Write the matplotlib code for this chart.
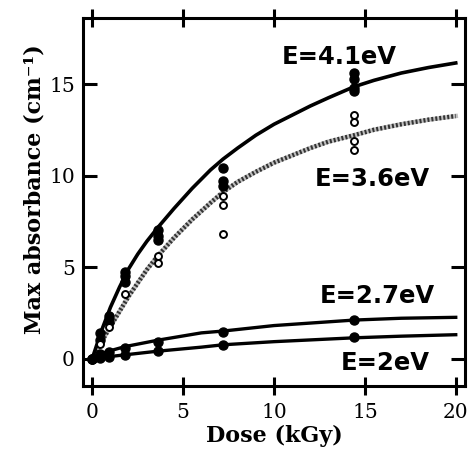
import matplotlib
matplotlib.use("Agg")
import matplotlib.pyplot as plt

# ---- data points (measured) ----
dose_41 = [0, 0.45, 0.45, 0.9, 0.9, 1.8, 1.8, 1.8, 3.6, 3.6, 3.6, 7.2, 7.2, 7.2, 14.4, 14.4, 14.4, 14.4]
abs_41 = [0, 1.4, 1.0, 2.3, 2.0, 4.7, 4.5, 4.2, 7.0, 6.7, 6.5, 10.4, 9.7, 9.4, 15.6, 15.3, 14.8, 14.6]

dose_36 = [0.45, 0.9, 1.8, 3.6, 3.6, 7.2, 7.2, 7.2, 14.4, 14.4, 14.4, 14.4]
abs_36 = [0.8, 1.7, 3.5, 5.6, 5.2, 8.9, 8.4, 6.8, 13.3, 12.9, 11.9, 11.4]

dose_27 = [0, 0.45, 0.9, 1.8, 3.6, 7.2, 14.4]
abs_27 = [0, 0.25, 0.35, 0.6, 0.9, 1.45, 2.1]

dose_20 = [0, 0.45, 0.9, 1.8, 3.6, 7.2, 14.4]
abs_20 = [0, 0.05, 0.1, 0.2, 0.4, 0.75, 1.15]

# ---- fitted curves ----
fit41_x = [0, 0.5, 1, 1.5, 2, 2.5, 3, 3.6, 4.5, 5.5, 6.5, 7.2, 8, 9, 10, 11, 12, 13, 14.4, 15.5, 17, 18.5, 20]
fit41_y = [0, 1.5, 2.8, 3.9, 4.9, 5.7, 6.4, 7.15, 8.2, 9.3, 10.3, 10.9, 11.5, 12.2, 12.8, 13.3, 13.8, 14.25, 14.85, 15.2, 15.6, 15.9, 16.15]

fit36_x = [0, 0.5, 1, 2, 3, 3.6, 4.5, 5.5, 6.5, 7.2, 8, 9, 10, 11, 12, 13, 14.4, 15.5, 17, 18.5, 20]
fit36_y = [0, 0.9, 1.75, 3.4, 4.85, 5.6, 6.6, 7.6, 8.5, 9.1, 9.65, 10.2, 10.7, 11.1, 11.5, 11.85, 12.2, 12.5, 12.8, 13.05, 13.25]

fit27_x = [0, 0.45, 0.9, 1.8, 3.6, 6, 7.2, 10, 14.4, 17, 20]
fit27_y = [0, 0.25, 0.4, 0.65, 1.0, 1.4, 1.5, 1.8, 2.1, 2.2, 2.25]

fit20_x = [0, 0.45, 0.9, 1.8, 3.6, 6, 7.2, 10, 14.4, 17, 20]
fit20_y = [0, 0.05, 0.1, 0.2, 0.4, 0.62, 0.75, 0.92, 1.13, 1.22, 1.3]

xticks = [0, 5, 10, 15, 20]
yticks = [0, 5, 10, 15]

labels = ["E=4.1eV", "E=3.6eV", "E=2.7eV", "E=2eV"]
label_pos = [(13.6, 16.5), (15.4, 9.8), (15.7, 3.4), (16.1, -0.27)]

fig = plt.figure(figsize=(4.70, 4.65), dpi=100)
ax = fig.add_axes([0.177, 0.170, 0.812, 0.791])

# curves
ax.plot(fit41_x, fit41_y, color="black", lw=2.6, solid_joinstyle="round", zorder=3)
ax.plot(fit36_x, fit36_y, color="0.75", lw=3.2, solid_joinstyle="round", zorder=2)
ax.plot(fit36_x, fit36_y, color="0.2", lw=3.2, dashes=(0.45, 0.45), zorder=2)
ax.plot(fit27_x, fit27_y, color="black", lw=2.4, solid_joinstyle="round", zorder=3)
ax.plot(fit20_x, fit20_y, color="black", lw=2.4, solid_joinstyle="round", zorder=3)

# markers
ax.plot(dose_41, abs_41, "o", ms=6.5, color="black", zorder=4)
ax.plot(dose_36, abs_36, "o", ms=5, mfc="white", mec="black", mew=1.4, zorder=4)
ax.plot(dose_27, abs_27, "o", ms=6.5, color="black", zorder=4)
ax.plot(dose_20, abs_20, "o", ms=6.5, color="black", zorder=4)

for txt, (x, y) in zip(labels, label_pos):
    ax.text(x, y, txt, ha="center", va="center", fontsize=17.5,
            fontweight="bold", family="DejaVu Sans")

ax.set_xlim(-0.5, 20.5)
ax.set_ylim(-1.5, 18.6)
ax.set_xticks(xticks)
ax.set_yticks(yticks)
ax.set_xticklabels([str(t) for t in xticks], family="DejaVu Serif", fontsize=14.5)
ax.set_yticklabels([str(t) for t in yticks], family="DejaVu Serif", fontsize=14.5)

for s in ax.spines.values():
    s.set_linewidth(2.2)

ax.tick_params(axis="x", which="major", direction="inout", length=13, width=2.2,
               top=True, bottom=True, pad=6)
ax.tick_params(axis="y", which="major", direction="in", length=10, width=2.2,
               left=True, right=True, pad=6)

ax.set_xlabel("Dose (kGy)", family="DejaVu Serif", fontweight="bold", fontsize=16, labelpad=2)
ax.set_ylabel("Max absorbance (cm\u207b\u00b9)", family="DejaVu Serif", fontweight="bold",
              fontsize=16, labelpad=4)
ax.yaxis.set_label_coords(-0.1, 0.535)

fig.savefig("out.png", dpi=100)
